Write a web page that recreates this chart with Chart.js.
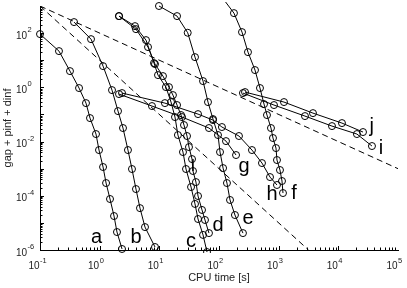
<!DOCTYPE html>
<html>
<head>
<meta charset="utf-8">
<script src="https://cdn.jsdelivr.net/npm/chart.js@4.4.0/dist/chart.umd.min.js"></script>
<style>
    html, body { margin: 0; padding: 0; background: #fff; }
    #wrap { width: 407px; height: 288px; }
</style>
</head>
<body>
<div id="wrap"><canvas id="chart"></canvas></div>
<script>
// solver runs: CPU time [s] vs gap + pinf + dinf
const aTime = [0.1, 0.208, 0.318, 0.451, 0.59, 0.689, 0.868, 0.975, 1.14, 1.28, 1.49, 1.74, 1.95, 2.37];
const aGap  = [92, 21.7, 3.97, 0.94, 0.262, 0.0734, 0.0189, 0.00486, 0.00115, 2.95e-4, 7.6e-5, 1.79e-5, 4.6e-6, 1.09e-6];

const bTime = [0.372, 0.716, 1.14, 1.61, 2.03, 2.46, 2.98, 3.48, 4.06, 4.74, 5.75, 8.46];
const bGap  = [255, 60, 6.07, 0.79, 0.133, 0.0315, 0.00486, 9.7e-4, 1.77e-4, 3.5e-5, 7.0e-6, 1.29e-6];

const cTime = [2.11, 3.91, 5.98, 8.14, 9.5, 12.9, 15.7, 18.3, 20.5, 24.9, 28.0, 34.0, 39.6, 44.5, 54.0, 63];
const cGap  = [424, 181, 55.2, 7.83, 2.83, 1.02, 0.286, 0.080, 0.0174, 0.0041, 9.7e-4, 2.1e-4, 5.0e-5, 1.39e-5, 3.6e-6, 8.4e-7];

const dTime = [2.11, 4.06, 6.46, 8.46, 11.5, 14.5, 16.9, 19.8, 23.1, 25.9, 29.1, 31.4, 35.3, 36.6, 41.1, 44.5, 51.9, 58.2, 67.9];
const dGap  = [424, 140, 30.5, 7.2, 2.6, 1.02, 0.518, 0.222, 0.095, 0.0406, 0.016, 0.00627, 0.00226, 8.2e-4, 3.2e-4, 9.8e-5, 3.0e-5, 1.28e-5, 4.2e-6];

const eTime = [9.87, 19.8, 29.9, 39.6, 54, 65.4, 79.3, 96.2, 104, 117, 136, 153, 185, 252];
const eGap  = [1000, 424, 103, 13.0, 1.70, 0.286, 0.0675, 0.0174, 0.0041, 0.00105, 2.95e-4, 7.0e-5, 1.95e-5, 4.2e-6];

const fTime = [112, 178, 243, 306, 401, 486, 568, 637, 743, 803, 902, 937, 1052, 1137, 1181];
const fGap  = [2120, 546, 109, 19.9, 4.33, 0.94, 0.241, 0.095, 0.0315, 0.0135, 0.00575, 0.00208, 8.9e-4, 3.5e-4, 1.26e-4];

const gTime = [2.11, 7.53, 24.0, 67.9, 131, 193];
const gGap  = [0.564, 0.204, 0.080, 0.0315, 0.0104, 0.00318];

const hTime = [2.37, 12.4, 44.5, 79.3, 112, 216, 357, 525, 716, 937];
const hGap  = [0.614, 0.262, 0.103, 0.062, 0.0343, 0.016, 0.00486, 0.00161, 4.9e-4, 2.5e-4];

const iTime = [252, 835, 2760, 7830, 20500, 36600];
const iGap  = [0.614, 0.222, 0.087, 0.0372, 0.0189, 0.00683];

const jTime = [273, 1228, 3758, 11500, 25900];
const jGap  = [0.668, 0.286, 0.112, 0.048, 0.0224];

// dashed reference slopes
const slope1Time = [0.1, 1e5];
const slope1Gap  = [1e3, 1e-3];
const slope2Time = [0.1, 3162];
const slope2Gap  = [1e3, 1e-6];

// curve letters
const curveNames = ['a', 'b', 'c', 'd', 'e', 'f', 'g', 'h', 'i', 'j'];
const nameTime = [0.89, 4.06, 34, 96, 306, 1807, 262, 773, 51900, 36200];
const nameGap  = [2.8e-6, 2.8e-6, 2.0e-6, 7.7e-6, 1.5e-5, 1.26e-4, 1.25e-3, 1.16e-4, 0.00575, 0.037];

// tick labels
const xTicks = [0.1, 1, 10, 100, 1000, 1e4, 1e5];
const yTicks = [1e-6, 1e-4, 1e-2, 1, 100];

const FONT = '"Liberation Sans", Arial, Helvetica, sans-serif';

function toPoints(times, gaps) {
    return times.map((t, i) => ({x: t, y: gaps[i]}));
}

function solverSet(times, gaps) {
    return {
        data: toPoints(times, gaps),
        showLine: true,
        borderColor: '#000',
        borderWidth: 1,
        tension: 0,
        pointRadius: 3.5,
        pointHoverRadius: 3.5,
        pointBorderWidth: 1,
        pointBorderColor: '#000',
        pointBackgroundColor: 'rgba(0,0,0,0)',
        clip: {left: 6, top: 4, right: 10, bottom: 3}
    };
}

function slopeSet(times, gaps) {
    return {
        data: toPoints(times, gaps),
        showLine: true,
        borderColor: '#000',
        borderWidth: 1,
        borderDash: [6, 4],
        pointRadius: 0,
        clip: 0
    };
}

// "10" with a raised exponent, MATLAB style
function drawPower(ctx, value, x, y, anchorRight) {
    const e = String(Math.round(Math.log10(value)));
    ctx.font = '10px ' + FONT;
    ctx.textAlign = 'right';
    ctx.fillText('10', x, y);
    ctx.font = '7.5px ' + FONT;
    ctx.textAlign = 'left';
    ctx.fillText(e, x + 0.5, y - 6.5);
}

// ticks pointing into the plot, power-of-ten labels and the curve letters
const decorPlugin = {
    id: 'decor',
    afterDatasetsDraw(chart) {
        const ctx = chart.ctx;
        const xs = chart.scales.x;
        const ys = chart.scales.y;
        const area = chart.chartArea;
        ctx.save();
        ctx.strokeStyle = '#000';
        ctx.lineWidth = 1;
        ctx.beginPath();
        for (let e = -1; e < 5; e++) {
            for (let k = 1; k <= 9; k++) {
                const px = Math.round(xs.getPixelForValue(k * Math.pow(10, e))) + 0.5;
                const len = k === 1 ? 4 : 2.5;
                ctx.moveTo(px, area.bottom);
                ctx.lineTo(px, area.bottom - len);
            }
        }
        for (let e = -6; e < 3; e++) {
            for (let k = 1; k <= 9; k++) {
                const py = Math.round(ys.getPixelForValue(k * Math.pow(10, e))) + 0.5;
                const len = k === 1 ? 4 : 2.5;
                ctx.moveTo(area.left, py);
                ctx.lineTo(area.left + len, py);
            }
        }
        ctx.stroke();

        ctx.fillStyle = '#222';
        ctx.textBaseline = 'alphabetic';
        xTicks.forEach(v => {
            drawPower(ctx, v, xs.getPixelForValue(v) - 0.5, area.bottom + 19);
        });
        yTicks.forEach(v => {
            drawPower(ctx, v, 27, ys.getPixelForValue(v) + 5.5);
        });

        ctx.fillStyle = '#000';
        ctx.font = '20px ' + FONT;
        ctx.textAlign = 'center';
        ctx.textBaseline = 'middle';
        curveNames.forEach((name, i) => {
            ctx.fillText(name, xs.getPixelForValue(nameTime[i]), ys.getPixelForValue(nameGap[i]));
        });
        ctx.restore();
    }
};

new Chart(document.getElementById('chart'), {
    type: 'scatter',
    data: {
        datasets: [
            slopeSet(slope1Time, slope1Gap),
            slopeSet(slope2Time, slope2Gap),
            solverSet(aTime, aGap),
            solverSet(bTime, bGap),
            solverSet(cTime, cGap),
            solverSet(dTime, dGap),
            solverSet(eTime, eGap),
            solverSet(fTime, fGap),
            solverSet(gTime, gGap),
            solverSet(hTime, hGap),
            solverSet(iTime, iGap),
            solverSet(jTime, jGap)
        ]
    },
    options: {
        responsive: true,
        maintainAspectRatio: false,
        animation: false,
        layout: {padding: {top: 6, right: 9, left: 0, bottom: 0}},
        plugins: {
            legend: {display: false},
            tooltip: {enabled: false}
        },
        scales: {
            x: {
                type: 'logarithmic',
                min: 0.1,
                max: 1e5,
                afterFit: (scale) => { scale.height = 38; },
                grid: {display: false, drawTicks: false},
                border: {display: true, color: '#000', width: 1},
                ticks: {display: false},
                title: {
                    display: true,
                    text: 'CPU time [s]',
                    color: '#222',
                    font: {size: 11, family: FONT},
                    padding: {top: 4, bottom: 3}
                }
            },
            y: {
                type: 'logarithmic',
                min: 1e-6,
                max: 1e3,
                afterFit: (scale) => { scale.width = 40; },
                grid: {display: false, drawTicks: false},
                border: {display: true, color: '#000', width: 1},
                ticks: {display: false},
                title: {
                    display: true,
                    text: 'gap + pinf + dinf',
                    color: '#222',
                    font: {size: 11, family: FONT},
                    padding: {top: 1, bottom: 0}
                }
            }
        }
    },
    plugins: [decorPlugin]
});
</script>
</body>
</html>
